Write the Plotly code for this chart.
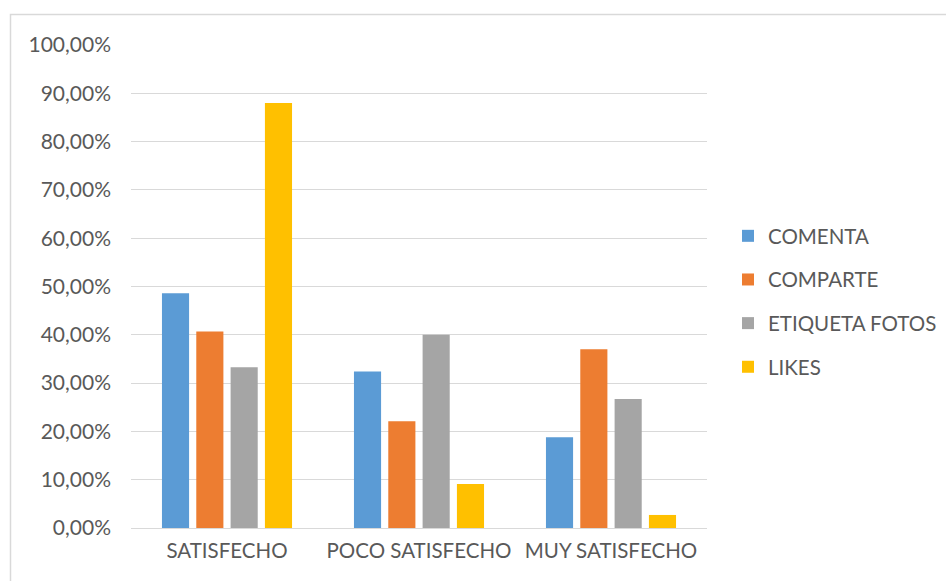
import plotly.graph_objects as go

categories = ["SATISFECHO", "POCO SATISFECHO", "MUY SATISFECHO"]
series_names = ["COMENTA", "COMPARTE", "ETIQUETA FOTOS", "LIKES"]
comenta = [48.6, 32.4, 18.8]
comparte = [40.7, 22.1, 37.0]
etiqueta_fotos = [33.3, 40.0, 26.7]
likes = [88.0, 9.1, 2.7]
colors = ["#5B9BD5", "#ED7D31", "#A5A5A5", "#FFC000"]
y_ticks = [0, 10, 20, 30, 40, 50, 60, 70, 80, 90, 100]

values = [comenta, comparte, etiqueta_fotos, likes]
font_family = "Lato, Open Sans, sans-serif"
txt_color = "#595959"

fig = go.Figure()
for i, (name, vals, col) in enumerate(zip(series_names, values, colors)):
    fig.add_trace(go.Bar(
        x=categories, y=[v / 100 for v in vals], name=name,
        marker=dict(color=col, line=dict(width=0)),
        legendgroup=name,
    ))

W, H = 946, 581
L, R, T, B = 131, 4, 45, 53
PLOT_RIGHT = 707
pw, ph = W - L - R, H - T - B


def px_x(x):
    return (x - L) / pw


def px_y(y):
    return (H - B - y) / ph


fig.add_shape(type="rect", xref="paper", yref="paper",
              x0=px_x(10.5), x1=px_x(960), y0=px_y(600), y1=px_y(14.5),
              line=dict(color="#D9D9D9", width=1.5), fillcolor="rgba(0,0,0,0)",
              layer="below")

fig.update_layout(
    width=W, height=H,
    margin=dict(l=L, r=R, t=T, b=B, pad=0, autoexpand=False),
    paper_bgcolor="white", plot_bgcolor="white",
    separators=",.",
    barmode="group", bargap=0.285, bargroupgap=0.21,
    font=dict(family=font_family, size=20.5, color=txt_color),
    xaxis=dict(domain=[0, px_x(PLOT_RIGHT)],
               showgrid=False, showline=False, zeroline=False, ticks="",
               tickfont=dict(size=20.5, color=txt_color), ticklabelstandoff=8),
    yaxis=dict(range=[0, 1], tickvals=[t / 100 for t in y_ticks], tickformat=".2%",
               showgrid=True, gridcolor="#D9D9D9", gridwidth=1.3,
               zeroline=True, zerolinecolor="#D9D9D9", zerolinewidth=1.3,
               showline=False, ticks="", ticklabelstandoff=19,
               tickfont=dict(size=21, color=txt_color)),
    legend=dict(x=px_x(728), y=px_y(216), xanchor="left", yanchor="top",
                traceorder="grouped", tracegroupgap=14,
                font=dict(size=20.5, color=txt_color),
                bgcolor="rgba(0,0,0,0)"),
    showlegend=True,
)

fig.write_html("out.html")
